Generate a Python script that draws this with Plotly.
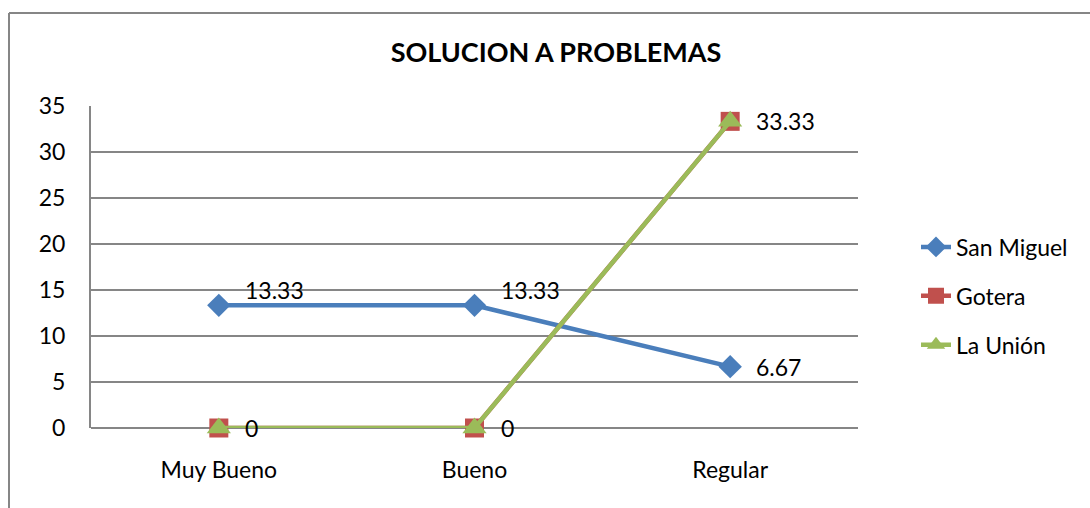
import plotly.graph_objects as go

categories = ["Muy Bueno", "Bueno", "Regular"]
san_miguel = [13.33, 13.33, 6.67]
gotera = [0, 0, 33.33]
la_union = [0, 0, 33.33]
series_names = ["San Miguel", "Gotera", "La Unión"]
title_text = "SOLUCION A PROBLEMAS"
y_ticks = [0, 5, 10, 15, 20, 25, 30, 35]

W, H = 1090, 508
L, R, T, B = 91, 232, 106, 80
PW, PH = W - L - R, H - T - B
FONT = "Lato, Carlito, Calibri, sans-serif"
FS = 23

def px(x):
    return (x - L) / PW

def py(y):
    return (H - B - y) / PH

colors = ["#4A7EBB", "#C0504D", "#9BBB59"]
symbols = ["diamond", "square", "triangle-up"]
sizes = [18, 19, 21]
data = [san_miguel, gotera, la_union]

fig = go.Figure()
for name, vals, col, sym, sz in zip(series_names, data, colors, symbols, sizes):
    fig.add_trace(go.Scatter(
        x=categories, y=vals, name=name, mode="lines+markers",
        line=dict(color=col, width=4.5),
        marker=dict(symbol=sym, size=sz, color=col),
        legendgroup=name, cliponaxis=False,
    ))

annotations = []
seen = set()
for vals in data:
    for c, v in zip(categories, vals):
        if (c, v) in seen:
            continue
        seen.add((c, v))
        yshift = 15 if v == 13.33 else 0
        annotations.append(dict(
            x=c, y=v, xref="x", yref="y", text=f"{v:g}",
            showarrow=False, xanchor="left", yanchor="middle",
            xshift=24, yshift=yshift,
            font=dict(family=FONT, size=FS, color="#000000"),
        ))

shapes = [
    dict(type="line", xref="paper", yref="paper", x0=px(9), x1=px(1095), y0=py(13), y1=py(13),
         line=dict(color="#868686", width=2)),
    dict(type="line", xref="paper", yref="paper", x0=px(9), x1=px(9), y0=py(13), y1=py(515),
         line=dict(color="#868686", width=2)),
]

fig.update_layout(
    width=W, height=H,
    margin=dict(l=L, r=R, t=T, b=B),
    paper_bgcolor="white", plot_bgcolor="white",
    title=dict(text=f"<b>{title_text}</b>", x=556 / W, xanchor="center",
               y=1 - 53 / H, yanchor="middle",
               font=dict(family=FONT, size=27, color="#000000")),
    font=dict(family=FONT, size=FS, color="#000000"),
    showlegend=True,
    legend=dict(x=px(916), y=py(296), xanchor="left", yanchor="middle",
                font=dict(family=FONT, size=FS, color="#000000"),
                tracegroupgap=16, bgcolor="rgba(0,0,0,0)"),
    annotations=annotations,
    shapes=shapes,
)
fig.update_xaxes(type="category", range=[-0.5, 2.5], showgrid=False,
                 showline=False, ticks="", tickfont=dict(family=FONT, size=FS),
                 ticklabelstandoff=26, zeroline=False, fixedrange=True)
fig.update_yaxes(range=[0, 35], tickvals=y_ticks, showgrid=True, gridcolor="#868686",
                 gridwidth=2, showline=True, linecolor="#868686", linewidth=2,
                 zeroline=True, zerolinecolor="#868686", zerolinewidth=2,
                 ticks="", ticklen=0, tickfont=dict(family=FONT, size=FS),
                 ticklabelstandoff=19, fixedrange=True)

fig.write_html("out.html", config={"displayModeBar": False},
               post_script="document.body.style.margin='0px';")
